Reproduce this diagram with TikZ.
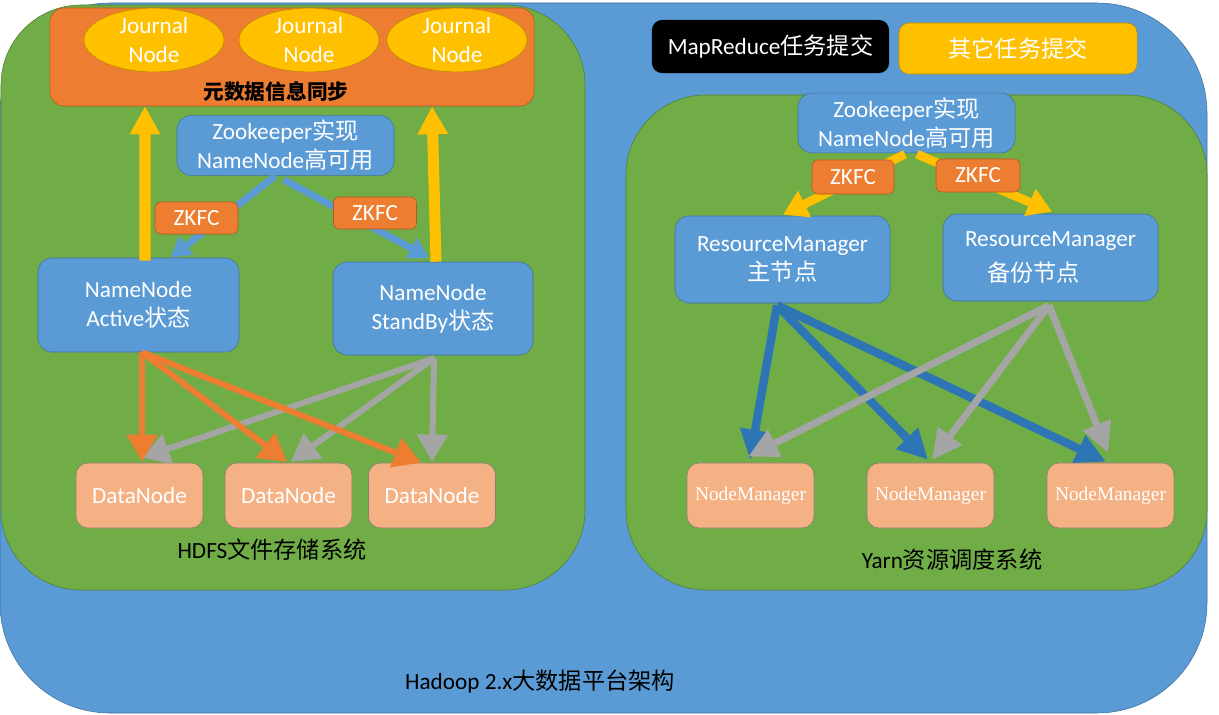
\documentclass[tikz,border=0pt]{standalone}
\usepackage{fontspec}
\setmainfont{Carlito}
\newfontfamily\cjk{Noto Sans CJK SC}
\newfontfamily\nmfont{Liberation Serif}
\usetikzlibrary{arrows.meta,calc,shapes.geometric}

\definecolor{hblue}{HTML}{5B9BD5}
\definecolor{hblueline}{HTML}{41719C}
\definecolor{hgreen}{HTML}{70AD47}
\definecolor{hgreenline}{HTML}{507E32}
\definecolor{horange}{HTML}{ED7D31}
\definecolor{horangeline}{HTML}{AE5A21}
\definecolor{hgold}{HTML}{FFC000}
\definecolor{hgoldline}{HTML}{BC8C00}
\definecolor{hpeach}{HTML}{F4B183}
\definecolor{hpeachline}{HTML}{8C7B70}
\definecolor{hdarkblue}{HTML}{2E75B6}
\definecolor{hgray}{HTML}{A5A5A5}

\tikzset{
  txt/.style={font=\fontsize{16.5}{20.5}\selectfont, align=center},
  bluebox/.style={txt, fill=hblue, draw=hblueline, rounded corners=0.35cm, text=white},
  zkfc/.style={txt, fill=horange, draw=horangeline, rounded corners=0.15cm, text=white, minimum width=2.075cm, minimum height=0.8cm},
  journal/.style={txt, ellipse, fill=hgold, draw=hgoldline, text=white, minimum width=3.5cm, minimum height=1.5cm, inner sep=0pt},
  peach/.style={fill=hpeach, draw=hpeachline, rounded corners=0.3cm, text=white, minimum width=3.175cm, minimum height=1.625cm},
  datanode/.style={peach, txt},
  nodemgr/.style={peach, font=\nmfont\fontsize{13.8}{16}\selectfont},
  syncup/.style={draw=hgold, line width=0.275cm, -{Triangle[width=0.72cm,length=0.7cm]}},
  zkline/.style={draw=hblue, line width=0.175cm, -{Triangle[width=0.55cm,length=0.5cm]}},
  rmline/.style={draw=hgold, line width=0.22cm, -{Triangle[width=0.7cm,length=0.6cm]}},
  dnorange/.style={draw=horange, line width=0.15cm, -{Triangle[width=0.75cm,length=0.68cm]}},
  dngray/.style={draw=hgray, line width=0.15cm, -{Triangle[width=0.75cm,length=0.68cm]}},
  nmblue/.style={draw=hdarkblue, line width=0.21cm, -{Triangle[width=0.72cm,length=0.75cm]}},
  nmgray/.style={draw=hgray, line width=0.175cm, -{Triangle[width=0.72cm,length=0.75cm]}}
}

\begin{document}
\begin{tikzpicture}[x=0.025cm,y=-0.025cm]
\useasboundingbox (0,0) rectangle (1219,715);

% platform and the two systems
\draw[fill=hblue, draw=hblueline, rounded corners=2.75cm] (0,3) rectangle (1207,713);
\draw[fill=hgreen, draw=hgreenline, rounded corners=2cm] (1,5) rectangle (585,590);
\draw[fill=hgreen, draw=hgreenline, rounded corners=2cm] (626,95) rectangle (1207,590);

% journal nodes
\node[fill=horange, draw=horangeline, rounded corners=0.35cm, minimum width=12.1cm, minimum height=2.45cm] (sync) at (292,57) {};
\node[journal] (jn1) at (154,40) {Journal\\Node};
\node[journal] (jn2) at (309,40) {Journal\\Node};
\node[journal] (jn3) at (457,40) {Journal\\Node};
\node[font=\cjk\bfseries\fontsize{14.7}{17}\selectfont] (syncText) at (276,92) {元数据信息同步};

% HDFS
\node[bluebox, minimum width=5.425cm, minimum height=1.325cm] (zkL) at (285.5,145.5) {Zookeeper{\cjk 实现}\\NameNode{\cjk 高可用}};
\node[bluebox, minimum width=5.025cm, minimum height=2.35cm] (nnA) at (138.5,305) {NameNode\\Active{\cjk 状态}};
\node[bluebox, minimum width=5cm, minimum height=2.325cm] (nnS) at (433,308.5) {NameNode\\StandBy{\cjk 状态}};

\draw[zkline] ($(zkL.south)+(-10,0)$) -- ($(nnA.north)+(32,0)$);
\draw[zkline] ($(zkL.south)+(-2,4)$) -- ($(nnS.north)+(-4,-4)$);
\node[zkfc] (zkfcL1) at (196.5,218) {ZKFC};
\node[zkfc] (zkfcL2) at (375,213) {ZKFC};

\draw[syncup] ($(nnA.north)+(6.5,3)$) -- ($(sync.south)+(-147,0)$);
\draw[syncup] ($(nnS.north)+(3,0)$) -- ($(sync.south)+(140,0)$);

\node[datanode] (dn1) at (139.5,495.5) {DataNode};
\node[datanode] (dn2) at (288.5,495.5) {DataNode};
\node[datanode] (dn3) at (432,495.5) {DataNode};

\draw[dngray] ($(nnS.south)+(1,3)$) -- ($(dn1.north)+(2.5,-5)$);
\draw[dngray] ($(nnS.south)+(1,3)$) -- ($(dn2.north)+(2.5,-1)$);
\draw[dngray] ($(nnS.south)+(1,3)$) -- ($(dn3.north)+(0,-1)$);
\draw[dnorange] ($(nnA.south)+(3.5,0)$) -- ($(dn1.north)+(2.5,-1)$);
\draw[dnorange] ($(nnA.south)+(3.5,0)$) -- ($(dn2.north)+(-1.5,-1)$);
\draw[dnorange] ($(nnA.south)+(3.5,0)$) -- ($(dn3.north)+(-11,0)$);

\node[txt] (hdfsLbl) at (272,550) {HDFS{\cjk 文件存储系统}};

% task submission
\node[txt, fill=black, rounded corners=0.25cm, text=white, minimum width=5.925cm, minimum height=1.325cm] (mrTask) at (770.5,46.5) {MapReduce{\cjk 任务提交}};
\node[txt, fill=hgold, draw=hgoldline, rounded corners=0.25cm, text=white, minimum width=5.95cm, minimum height=1.275cm] (otherTask) at (1018,48.5) {\cjk 其它任务提交};

% Yarn
\node[bluebox, minimum width=5.425cm, minimum height=1.3cm] (zkR) at (906.5,123) {Zookeeper{\cjk 实现}\\NameNode{\cjk 高可用}};
\node[bluebox, minimum width=5.375cm, minimum height=2.175cm] (rmA) at (782.5,259.5) {ResourceManager\\{\cjk 主节点}};
\node[bluebox, minimum width=5.375cm, minimum height=2.175cm] (rmB) at (1050.5,257.5) {ResourceManager\\[5pt]{\cjk 备份节点}\hspace*{24pt}};

\draw[rmline] ($(zkR.south)+(-1.5,1)$) -- ($(rmA.north)+(0.5,-1)$);
\draw[rmline] ($(zkR.south)+(10.5,1)$) -- ($(rmB.north)+(1.5,-2)$);
\node[zkfc, minimum width=2.05cm, minimum height=0.85cm] (zkfcR1) at (853,177) {ZKFC};
\node[zkfc, minimum width=2.1cm, minimum height=0.825cm] (zkfcR2) at (978,175.5) {ZKFC};

\node[nodemgr] (nm1) at (750.5,495.5) {NodeManager};
\node[nodemgr] (nm2) at (930.5,495.5) {NodeManager};
\node[nodemgr] (nm3) at (1110.5,495.5) {NodeManager};

\draw[nmblue] ($(rmA.south)+(-5.5,2)$) -- ($(nm1.north)+(-0.5,-3)$);
\draw[nmblue] ($(rmA.south)+(-5.5,2)$) -- ($(nm2.north)+(-2.5,-3)$);
\draw[nmblue] ($(rmA.south)+(-5.5,2)$) -- ($(nm3.north)+(-4.5,-1)$);
\draw[nmgray] ($(rmB.south)+(-1.5,4)$) -- ($(nm1.north)+(-2.5,-6)$);
\draw[nmgray] ($(rmB.south)+(-1.5,4)$) -- ($(nm2.north)+(1.5,-3)$);
\draw[nmgray] ($(rmB.south)+(-1.5,4)$) -- ($(nm3.north)+(-2.5,-10)$);

\node[txt] (yarnLbl) at (952,560) {Yarn{\cjk 资源调度系统}};
\node[txt] (hadoopLbl) at (540,682) {Hadoop 2.x{\cjk 大数据平台架构}};
\end{tikzpicture}
\end{document}
